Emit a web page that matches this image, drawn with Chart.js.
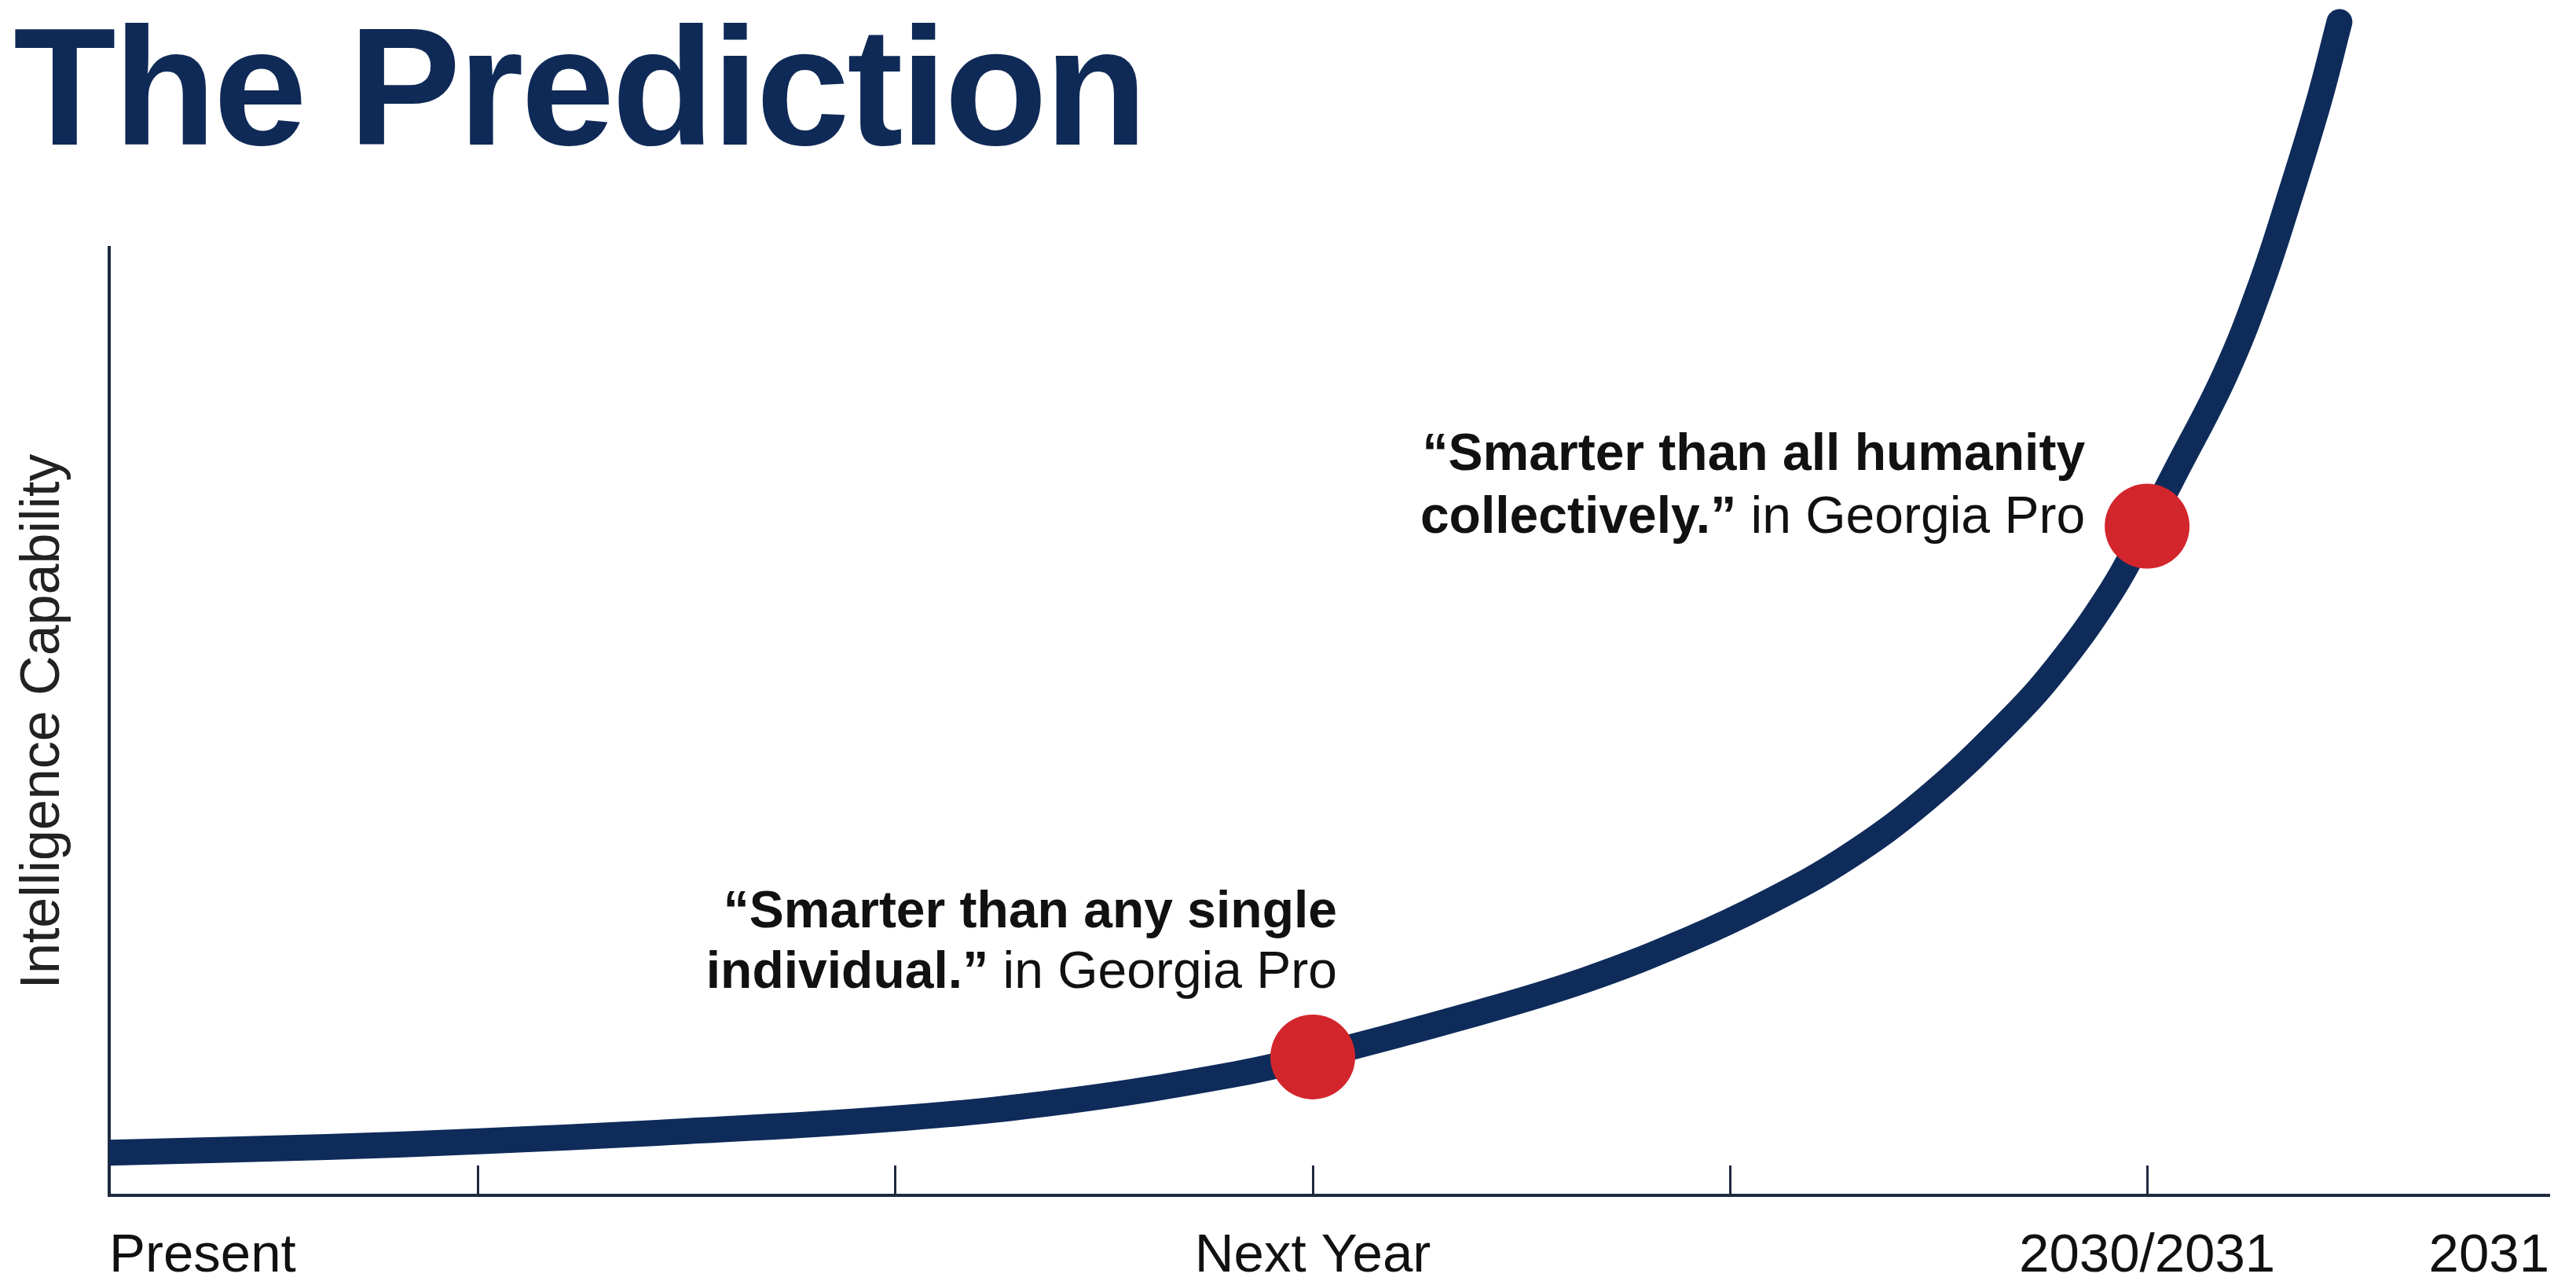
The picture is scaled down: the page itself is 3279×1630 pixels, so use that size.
<!DOCTYPE html>
<html>
<head>
<meta charset="utf-8">
<title>The Prediction</title>
<script src="https://cdn.jsdelivr.net/npm/chart.js@4.4.1/dist/chart.umd.min.js"></script>
<style>
  html, body { margin: 0; padding: 0; background: #fff; overflow: hidden; }
  #wrap { position: relative; width: 3279px; height: 1630px; }
  #chart { position: absolute; left: 0; top: 0; }
  #title {
    position: absolute; left: 17px; top: 3px; margin: 0; z-index: 2;
    font: bold 214px/1 "Liberation Sans", Arial, sans-serif;
    letter-spacing: -3.3px; color: #0f2a57;
  }
</style>
</head>
<body>
<div id="wrap">
  <h1 id="title">The Prediction</h1>
  <canvas id="chart" width="3279" height="1630"></canvas>
</div>
<script>
// ── Data ───────────────────────────────────────────────────────────
// x: time (ticks at 1..5), y: capability (0 = x axis, 100 = top of y axis)
const curveX = [0.115, 0.637, 1.0, 1.429, 2.0, 2.42, 2.817, 3.0, 3.375, 3.652, 3.902, 4.09, 4.279, 4.467, 4.655, 4.782, 4.915, 5.0, 5.07, 5.186, 5.273, 5.345, 5.412, 5.461];
const curveY = [4.5, 5.1, 5.7, 6.6, 8.1, 10.0, 12.8, 14.6, 19.0, 22.7, 27.0, 30.9, 35.6, 41.7, 49.4, 55.6, 63.8, 70.6, 76.5, 86.5, 96.1, 105.8, 115.5, 123.8];

const dotX = [3, 5];
const dotY = [14.6, 70.6];

const tickValues = [0.115, 1, 2, 3, 4, 5, 5.964];
const tickLabels = ['Present', '', '', 'Next Year', '', '2030/2031', '2031'];

const noteBold = [
  ['\u201CSmarter than any single', 'individual.\u201D'],
  ['\u201CSmarter than all humanity', 'collectively.\u201D'],
];
const noteRegular = [
  ['', ' in Georgia Pro'],
  ['', ' in Georgia Pro'],
];

// ── Colours ────────────────────────────────────────────────────────
const NAVY = '#0e2b5a';
const RED = '#d2262c';
const AXIS = '#1e2a3e';
const INK = '#111111';

Chart.defaults.font.family = '"Liberation Sans", Arial, sans-serif';

// ── Annotation text next to the dots ───────────────────────────────
const notesPlugin = {
  id: 'notes',
  afterDatasetsDraw: function (chart, args, opts) {
    const ctx = chart.ctx;
    const xs = chart.scales.x;
    const ys = chart.scales.y;
    ctx.save();
    ctx.fillStyle = opts.color;
    ctx.textAlign = 'right';
    ctx.textBaseline = 'alphabetic';
    opts.items.forEach(function (item, i) {
      const px = xs.getPixelForValue(dotX[i]) + item.dx;
      const py = ys.getPixelForValue(dotY[i]);
      noteBold[i].forEach(function (boldText, j) {
        const y = py + item.dy[j];
        const reg = noteRegular[i][j];
        let w = 0;
        if (reg) {
          ctx.font = opts.regularFont;
          ctx.fillText(reg, px, y);
          w = ctx.measureText(reg).width;
        }
        ctx.font = opts.boldFont;
        ctx.fillText(boldText, px - w, y);
      });
    });
    ctx.restore();
  },
};

// ── Chart ──────────────────────────────────────────────────────────
const curvePoints = curveX.map(function (x, i) { return { x: x, y: curveY[i] }; });
const dotPoints = dotX.map(function (x, i) { return { x: x, y: dotY[i] }; });

new Chart(document.getElementById('chart'), {
  type: 'line',
  data: {
    datasets: [
      {
        label: 'Dots',
        data: dotPoints,
        showLine: false,
        pointRadius: 54,
        pointHoverRadius: 54,
        pointBackgroundColor: RED,
        pointBorderWidth: 0,
        clip: false,
        order: 0,
      },
      {
        label: 'Capability',
        data: curvePoints,
        borderColor: NAVY,
        borderWidth: 33,
        borderCapStyle: 'round',
        borderJoinStyle: 'round',
        tension: 0.4,
        pointRadius: 0,
        pointHoverRadius: 0,
        fill: false,
        clip: { left: 0, top: false, right: false, bottom: 0 },
        order: 1,
      },
    ],
  },
  options: {
    responsive: false,
    animation: false,
    events: [],
    layout: {
      autoPadding: false,
      padding: { top: 315, right: 34, left: 0, bottom: 0 },
    },
    scales: {
      x: {
        type: 'linear',
        min: tickValues[0],
        max: tickValues[tickValues.length - 1],
        afterBuildTicks: function (scale) {
          scale.ticks = tickValues.map(function (v) { return { value: v }; });
        },
        afterFit: function (scale) {
          scale.height = 109;
        },
        border: { display: true, color: AXIS, width: 4 },
        grid: {
          display: true,
          drawOnChartArea: false,
          drawTicks: true,
          tickLength: -38,
          tickWidth: 3,
          tickColor: function (c) {
            return (c.index === 0 || c.index === tickValues.length - 1) ? 'rgba(0,0,0,0)' : AXIS;
          },
        },
        ticks: {
          autoSkip: false,
          maxRotation: 0,
          minRotation: 0,
          align: 'inner',
          padding: 0,
          color: INK,
          // tall line box pushes the labels below the inward tick marks
          font: { size: 69, lineHeight: 3.36 },
          callback: function (value, index) { return tickLabels[index]; },
        },
      },
      y: {
        type: 'linear',
        min: 0,
        max: 100,
        afterFit: function (scale) { scale.width = 139; },
        border: { display: true, color: AXIS, width: 4 },
        grid: { display: false, drawTicks: false },
        ticks: { display: false },
        title: {
          display: true,
          text: 'Intelligence Capability',
          color: '#222222',
          font: { size: 70 },
          padding: { top: 14, bottom: 43 },
        },
      },
    },
    plugins: {
      legend: { display: false },
      tooltip: { enabled: false },
      title: { display: false },
      notes: {
        color: INK,
        boldFont: 'bold 66px "Liberation Sans", Arial, sans-serif',
        regularFont: '66px "Liberation Sans", Arial, sans-serif',
        items: [
          { dx: 31, dy: [-165, -88] },
          { dx: -79, dy: [-72, 8] },
        ],
      },
    },
  },
  plugins: [notesPlugin],
});
</script>
</body>
</html>
